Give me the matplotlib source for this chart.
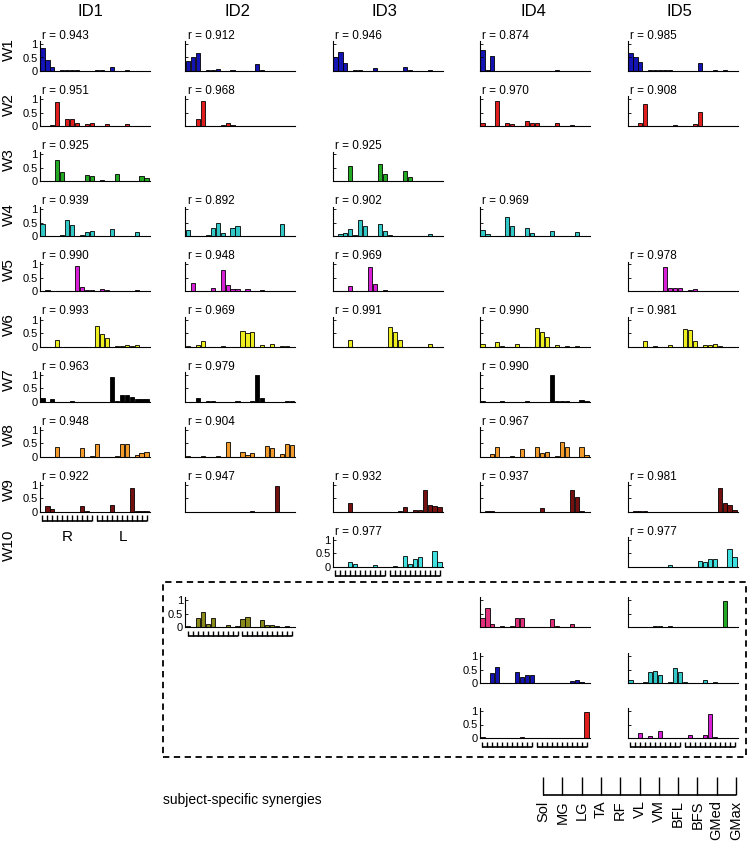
import matplotlib
matplotlib.use("Agg")
import matplotlib.pyplot as plt
from matplotlib.patches import Rectangle

plt.rcParams['font.family'] = ['Liberation Sans', 'DejaVu Sans']

# ---- data ----------------------------------------------------------------
subjects = ['ID1', 'ID2', 'ID3', 'ID4', 'ID5']
synergies = ['W1', 'W2', 'W3', 'W4', 'W5', 'W6', 'W7', 'W8', 'W9', 'W10']
muscles = ['Sol', 'MG', 'LG', 'TA', 'RF', 'VL', 'VM', 'BFL', 'BFS', 'GMed', 'GMax']
# 22 weights per synergy: 11 right-side muscles, then 11 left-side muscles

syn_colors = {
    'W1': '#1414b4', 'W2': '#e01e1e', 'W3': '#22a822', 'W4': '#33c8c8',
    'W5': '#d820d8', 'W6': '#eeee1e', 'W7': '#000000', 'W8': '#f29a2a',
    'W9': '#741010', 'W10': '#3ee0e0',
}

id1_weights = {
    'W1': [0.84, 0.42, 0.16, 0, 0.02, 0.03, 0.02, 0.02, 0, 0, 0.01, 0.02, 0.02, 0, 0.15, 0.01, 0, 0.04, 0, 0, 0.01, 0.01],
    'W2': [0.01, 0.01, 0.03, 0.9, 0.02, 0.25, 0.27, 0.1, 0, 0.08, 0.12, 0.01, 0.01, 0.09, 0.01, 0, 0.01, 0.07, 0.01, 0, 0, 0.01],
    'W3': [0, 0, 0, 0.8, 0.35, 0, 0, 0, 0, 0.22, 0.18, 0, 0.03, 0, 0, 0.28, 0, 0, 0, 0.01, 0.2, 0.13],
    'W4': [0.47, 0.02, 0.02, 0.02, 0.05, 0.6, 0.42, 0, 0.05, 0.17, 0.2, 0, 0, 0, 0.28, 0, 0, 0, 0, 0.17, 0, 0],
    'W5': [0, 0.05, 0.03, 0, 0, 0, 0, 0.93, 0.15, 0.05, 0.05, 0, 0.1, 0.04, 0.01, 0, 0, 0, 0, 0.05, 0, 0],
    'W6': [0, 0, 0, 0.25, 0, 0, 0, 0, 0, 0, 0, 0.75, 0.47, 0.3, 0, 0.02, 0.02, 0.05, 0.01, 0.05, 0, 0],
    'W7': [0.15, 0, 0.1, 0, 0, 0, 0.02, 0, 0, 0, 0, 0, 0, 0, 0.92, 0.02, 0.25, 0.26, 0.17, 0.1, 0.1, 0.1],
    'W8': [0, 0, 0, 0.37, 0, 0, 0, 0, 0.31, 0, 0.03, 0.47, 0, 0, 0, 0.04, 0.48, 0.46, 0, 0.07, 0.13, 0.16],
    'W9': [0, 0.22, 0.12, 0.01, 0, 0, 0, 0, 0.2, 0.02, 0.01, 0, 0, 0, 0.25, 0, 0, 0, 0.87, 0.03, 0.03, 0.02],
}
id1_r = {'W1': 0.943, 'W2': 0.951, 'W3': 0.925, 'W4': 0.939, 'W5': 0.990,
         'W6': 0.993, 'W7': 0.963, 'W8': 0.948, 'W9': 0.922}

id2_weights = {
    'W1': [0.37, 0.5, 0.67, 0, 0.02, 0.02, 0.08, 0, 0, 0.02, 0, 0, 0, 0, 0.26, 0.02, 0, 0, 0, 0, 0.01, 0],
    'W2': [0.02, 0, 0.28, 0.94, 0, 0, 0, 0.05, 0.1, 0.05, 0, 0, 0, 0.01, 0, 0.02, 0.02, 0, 0, 0.02, 0, 0],
    'W4': [0.22, 0, 0, 0, 0.05, 0.31, 0.5, 0.14, 0, 0.31, 0.38, 0.02, 0, 0, 0, 0, 0, 0.01, 0, 0.47, 0, 0],
    'W5': [0, 0.32, 0, 0, 0, 0.12, 0.02, 0.8, 0.22, 0.1, 0.1, 0, 0.1, 0, 0, 0.07, 0.02, 0.01, 0, 0.02, 0, 0],
    'W6': [0.02, 0, 0.07, 0.22, 0, 0, 0, 0.01, 0, 0, 0, 0.58, 0.5, 0.53, 0, 0.05, 0, 0.08, 0, 0.02, 0.01, 0],
    'W7': [0, 0, 0.15, 0, 0.02, 0.02, 0, 0, 0, 0, 0.01, 0, 0, 0.01, 0.97, 0.15, 0, 0, 0, 0, 0.02, 0.02],
    'W8': [0.01, 0, 0, 0.01, 0, 0, 0.01, 0, 0.55, 0, 0, 0.17, 0.08, 0.15, 0, 0, 0.41, 0.33, 0, 0.1, 0.46, 0.42],
    'W9': [0, 0, 0, 0, 0, 0, 0, 0, 0, 0, 0, 0, 0, 0.02, 0, 0, 0, 0, 0.97, 0.01, 0, 0],
}
id2_r = {'W1': 0.912, 'W2': 0.968, 'W4': 0.892, 'W5': 0.948, 'W6': 0.969,
         'W7': 0.979, 'W8': 0.904, 'W9': 0.947}

id3_weights = {
    'W1': [0.53, 0.69, 0.31, 0, 0.02, 0.02, 0.01, 0, 0.11, 0, 0, 0, 0, 0, 0.14, 0.02, 0, 0, 0, 0.02, 0, 0],
    'W3': [0, 0, 0, 0.57, 0.02, 0, 0, 0, 0, 0.65, 0.28, 0, 0, 0.02, 0.37, 0.16, 0, 0.02, 0, 0.01, 0, 0],
    'W4': [0, 0.1, 0.12, 0.27, 0.05, 0.62, 0.37, 0, 0.02, 0.47, 0.2, 0.05, 0, 0, 0.02, 0, 0, 0, 0, 0.07, 0, 0],
    'W5': [0, 0, 0, 0.2, 0, 0, 0, 0.9, 0.26, 0, 0.04, 0, 0, 0.02, 0.02, 0, 0, 0, 0, 0.01, 0.01, 0],
    'W6': [0, 0, 0, 0.25, 0, 0, 0, 0, 0, 0, 0, 0.72, 0.55, 0.25, 0, 0, 0, 0, 0, 0.08, 0, 0],
    'W9': [0, 0, 0, 0.33, 0, 0, 0.01, 0, 0, 0, 0.01, 0, 0, 0.02, 0.18, 0, 0.06, 0.08, 0.8, 0.25, 0.21, 0.17],
    'W10': [0, 0, 0, 0.2, 0.12, 0, 0, 0, 0.08, 0, 0, 0, 0.02, 0, 0.42, 0.12, 0.3, 0.37, 0, 0.01, 0.6, 0.18],
}
id3_r = {'W1': 0.946, 'W3': 0.925, 'W4': 0.902, 'W5': 0.969, 'W6': 0.991,
         'W9': 0.932, 'W10': 0.977}

id4_weights = {
    'W1': [0.78, 0.02, 0.56, 0, 0, 0.01, 0, 0, 0, 0, 0, 0.01, 0, 0, 0, 0.02, 0, 0, 0.01, 0, 0, 0],
    'W2': [0.1, 0, 0.02, 0.94, 0, 0.1, 0.08, 0, 0, 0.2, 0.1, 0.1, 0, 0.02, 0, 0.1, 0, 0, 0.03, 0, 0, 0],
    'W4': [0.22, 0.1, 0, 0, 0.02, 0.72, 0.4, 0, 0.02, 0.31, 0.12, 0, 0, 0, 0.2, 0, 0, 0, 0, 0.16, 0, 0],
    'W6': [0.08, 0, 0, 0.17, 0.02, 0, 0, 0.1, 0, 0, 0, 0.68, 0.55, 0.37, 0, 0.06, 0, 0.02, 0, 0.02, 0, 0],
    'W7': [0.02, 0, 0, 0, 0.02, 0, 0, 0, 0, 0.04, 0, 0, 0, 0, 0.97, 0.03, 0.04, 0.04, 0, 0, 0.05, 0.01],
    'W8': [0, 0, 0.1, 0.37, 0, 0, 0.01, 0, 0.3, 0, 0, 0.37, 0.12, 0.17, 0, 0.03, 0.53, 0.37, 0, 0, 0.37, 0.07],
    'W9': [0, 0.03, 0.02, 0.01, 0, 0, 0, 0, 0, 0, 0, 0, 0.15, 0, 0, 0, 0, 0, 0.8, 0.55, 0.02, 0],
}
id4_r = {'W1': 0.874, 'W2': 0.970, 'W4': 0.969, 'W6': 0.990, 'W7': 0.990,
         'W8': 0.967, 'W9': 0.937}

id5_weights = {
    'W1': [0.65, 0.52, 0.32, 0, 0.02, 0.04, 0.03, 0.03, 0.03, 0, 0, 0.01, 0, 0.01, 0.28, 0, 0, 0.02, 0, 0.02, 0, 0],
    'W2': [0, 0, 0.12, 0.82, 0, 0, 0, 0, 0, 0.03, 0, 0, 0, 0.07, 0.51, 0, 0, 0, 0, 0.01, 0.02, 0.01],
    'W5': [0, 0, 0.02, 0, 0, 0, 0.02, 0.9, 0.12, 0.14, 0.13, 0, 0.06, 0.08, 0, 0, 0, 0, 0, 0.01, 0.01, 0.01],
    'W6': [0, 0, 0, 0.22, 0, 0.01, 0, 0, 0.05, 0, 0, 0.65, 0.62, 0.19, 0, 0.05, 0.05, 0.08, 0.02, 0, 0, 0],
    'W9': [0, 0.02, 0.03, 0.03, 0, 0, 0, 0, 0, 0, 0.01, 0, 0.01, 0, 0, 0.01, 0, 0, 0.88, 0.33, 0.24, 0.08],
    'W10': [0.01, 0, 0, 0, 0, 0.01, 0, 0, 0.07, 0, 0.01, 0.01, 0, 0, 0.21, 0.2, 0.31, 0.28, 0, 0, 0.66, 0.35],
}
id5_r = {'W1': 0.985, 'W2': 0.908, 'W5': 0.978, 'W6': 0.981, 'W9': 0.981, 'W10': 0.977}

# subject-specific synergies (inside the dashed box)
ss_id2_weights = [
    [0.05, 0, 0.33, 0.54, 0.12, 0.35, 0, 0, 0.07, 0, 0.02, 0.3, 0.38, 0, 0, 0.27, 0.07, 0.07, 0.02, 0, 0.05, 0],
]
ss_id2_colors = ['#8a8a1c']
ss_id4_weights = [
    [0.33, 0.7, 0.1, 0, 0.04, 0, 0.05, 0.33, 0.34, 0, 0, 0, 0, 0, 0.3, 0.04, 0, 0, 0.12, 0, 0, 0],
    [0, 0, 0.37, 0.6, 0, 0, 0, 0.39, 0.22, 0.3, 0.3, 0, 0, 0.01, 0, 0, 0, 0.01, 0.07, 0.1, 0.05, 0],
    [0.02, 0, 0, 0, 0, 0, 0, 0, 0.02, 0, 0, 0, 0, 0, 0, 0, 0, 0.01, 0, 0, 0, 0.97],
]
ss_id4_colors = ['#e0307c', '#1414b4', '#e01e1e']
ss_id5_weights = [
    [0, 0, 0.01, 0, 0, 0.02, 0.02, 0, 0.03, 0, 0, 0, 0, 0, 0, 0, 0.01, 0, 0, 0.97, 0, 0],
    [0.12, 0, 0, 0.02, 0.42, 0.44, 0.29, 0, 0.05, 0.55, 0.39, 0.04, 0, 0, 0, 0.1, 0, 0.03, 0, 0, 0, 0],
    [0, 0, 0.2, 0, 0.08, 0, 0.25, 0, 0, 0.01, 0, 0, 0.12, 0, 0, 0.12, 0.89, 0.04, 0, 0, 0, 0.01],
]
ss_id5_colors = ['#22a822', '#33c8c8', '#d820d8']

# ---- layout (pixels) -----------------------------------------------------
W, H = 752, 850
col_left = [39.5, 185, 332.5, 479.5, 627.5]
title_x = [90, 238, 384, 533, 679]
ax_w, ax_h = 110, 29.7
row_base = [71 + 55.1 * k for k in range(10)]
ss_base = [627, 683, 738]

fig = plt.figure(figsize=(W / 100, H / 100), dpi=100)


def add_panel(col, base, vals, color, r=None, labels=False, comb=False):
    left = col_left[col]
    ax = fig.add_axes([left / W, 1 - base / H, ax_w / W, ax_h / H])
    xs = list(range(1, len(vals) + 1))
    ax.bar(xs, vals, width=0.85, color=color, edgecolor='black', linewidth=0.6)
    ax.set_xlim(0.4, 22.6)
    ax.set_ylim(0, 1.1)
    ax.spines['top'].set_visible(False)
    ax.spines['right'].set_visible(False)
    for s in ('left', 'bottom'):
        ax.spines[s].set_linewidth(0.8)
    ax.set_xticks([])
    ax.set_yticks([0, 0.5, 1])
    ax.set_yticklabels(['0', '0.5', '1'])
    ax.tick_params(axis='y', direction='in', length=2, width=0.6,
                   labelsize=8, pad=1.5, labelleft=labels)
    if r is not None:
        ax.text(0.025, 1.08, f'r = {r:.3f}', transform=ax.transAxes,
                fontsize=8.5, ha='left', va='baseline')
    if comb:
        tr = ax.get_xaxis_transform()
        y_top, y_bot = -3.5 / ax_h, -9 / ax_h
        for grp in (xs[:11], xs[11:]):
            ax.plot([grp[0], grp[-1]], [y_bot, y_bot], color='k', lw=1.2,
                    transform=tr, clip_on=False, solid_capstyle='butt')
            ax.vlines(grp, y_bot, y_top, colors='k', lw=1.0,
                      transform=tr, clip_on=False)
    return ax


subject_data = [(id1_weights, id1_r), (id2_weights, id2_r), (id3_weights, id3_r),
                (id4_weights, id4_r), (id5_weights, id5_r)]

for c, (weights, rvals) in enumerate(subject_data):
    for name, vals in weights.items():
        k = synergies.index(name)
        is_last = (c == 0 and name == 'W9') or (c == 2 and name == 'W10')
        show_lab = c == 0 or (c == 2 and name == 'W10')
        ax = add_panel(c, row_base[k], vals, syn_colors[name], rvals[name],
                       labels=show_lab, comb=is_last)
        if c == 0 and name == 'W9':
            tr = ax.get_xaxis_transform()
            ax.text(6, -0.85, 'R', transform=tr, fontsize=11, ha='center', va='center')
            ax.text(17.3, -0.85, 'L', transform=tr, fontsize=11, ha='center', va='center')

# subject-specific panels
for i, vals in enumerate(ss_id2_weights):
    add_panel(1, ss_base[i], vals, ss_id2_colors[i], labels=True,
              comb=(i == len(ss_id2_weights) - 1))
for i, vals in enumerate(ss_id4_weights):
    add_panel(3, ss_base[i], vals, ss_id4_colors[i], labels=(i > 0), comb=(i == 2))
for i, vals in enumerate(ss_id5_weights):
    add_panel(4, ss_base[i], vals, ss_id5_colors[i], labels=False, comb=(i == 2))

# column titles and row labels
for c, s in enumerate(subjects):
    fig.text(title_x[c] / W, 1 - 12 / H, s, fontsize=12, ha='center', va='center')
for k, s in enumerate(synergies):
    yc = row_base[k] - ax_h / 2 - 7
    fig.text(9 / W, 1 - yc / H, s, fontsize=11, rotation=90, ha='center', va='center')

# dashed box around subject-specific synergies
box = Rectangle((163 / W, 1 - 757 / H), (746 - 163) / W, (757 - 582) / H,
                transform=fig.transFigure, fill=False, edgecolor='k',
                linewidth=1.3, linestyle=(0, (3.5, 2.5)))
fig.add_artist(box)
fig.text(163 / W, 1 - 800 / H, 'subject-specific synergies', fontsize=10,
         ha='left', va='center')

# muscle key
ax_key = fig.add_axes([543 / W, 1 - 795 / H, 193 / W, 18 / H])
ax_key.axis('off')
ax_key.set_xlim(0, 10)
ax_key.set_ylim(0, 1)
ax_key.plot([0, 10], [0, 0], color='k', lw=1.2, clip_on=False, solid_capstyle='butt')
ax_key.vlines(range(len(muscles)), 0, 1, colors='k', lw=1.0, clip_on=False)
for i, m in enumerate(muscles):
    ax_key.text(i, -0.3, m, rotation=90, ha='center', va='top', fontsize=10.5)

fig.savefig('out.png', dpi=100)
